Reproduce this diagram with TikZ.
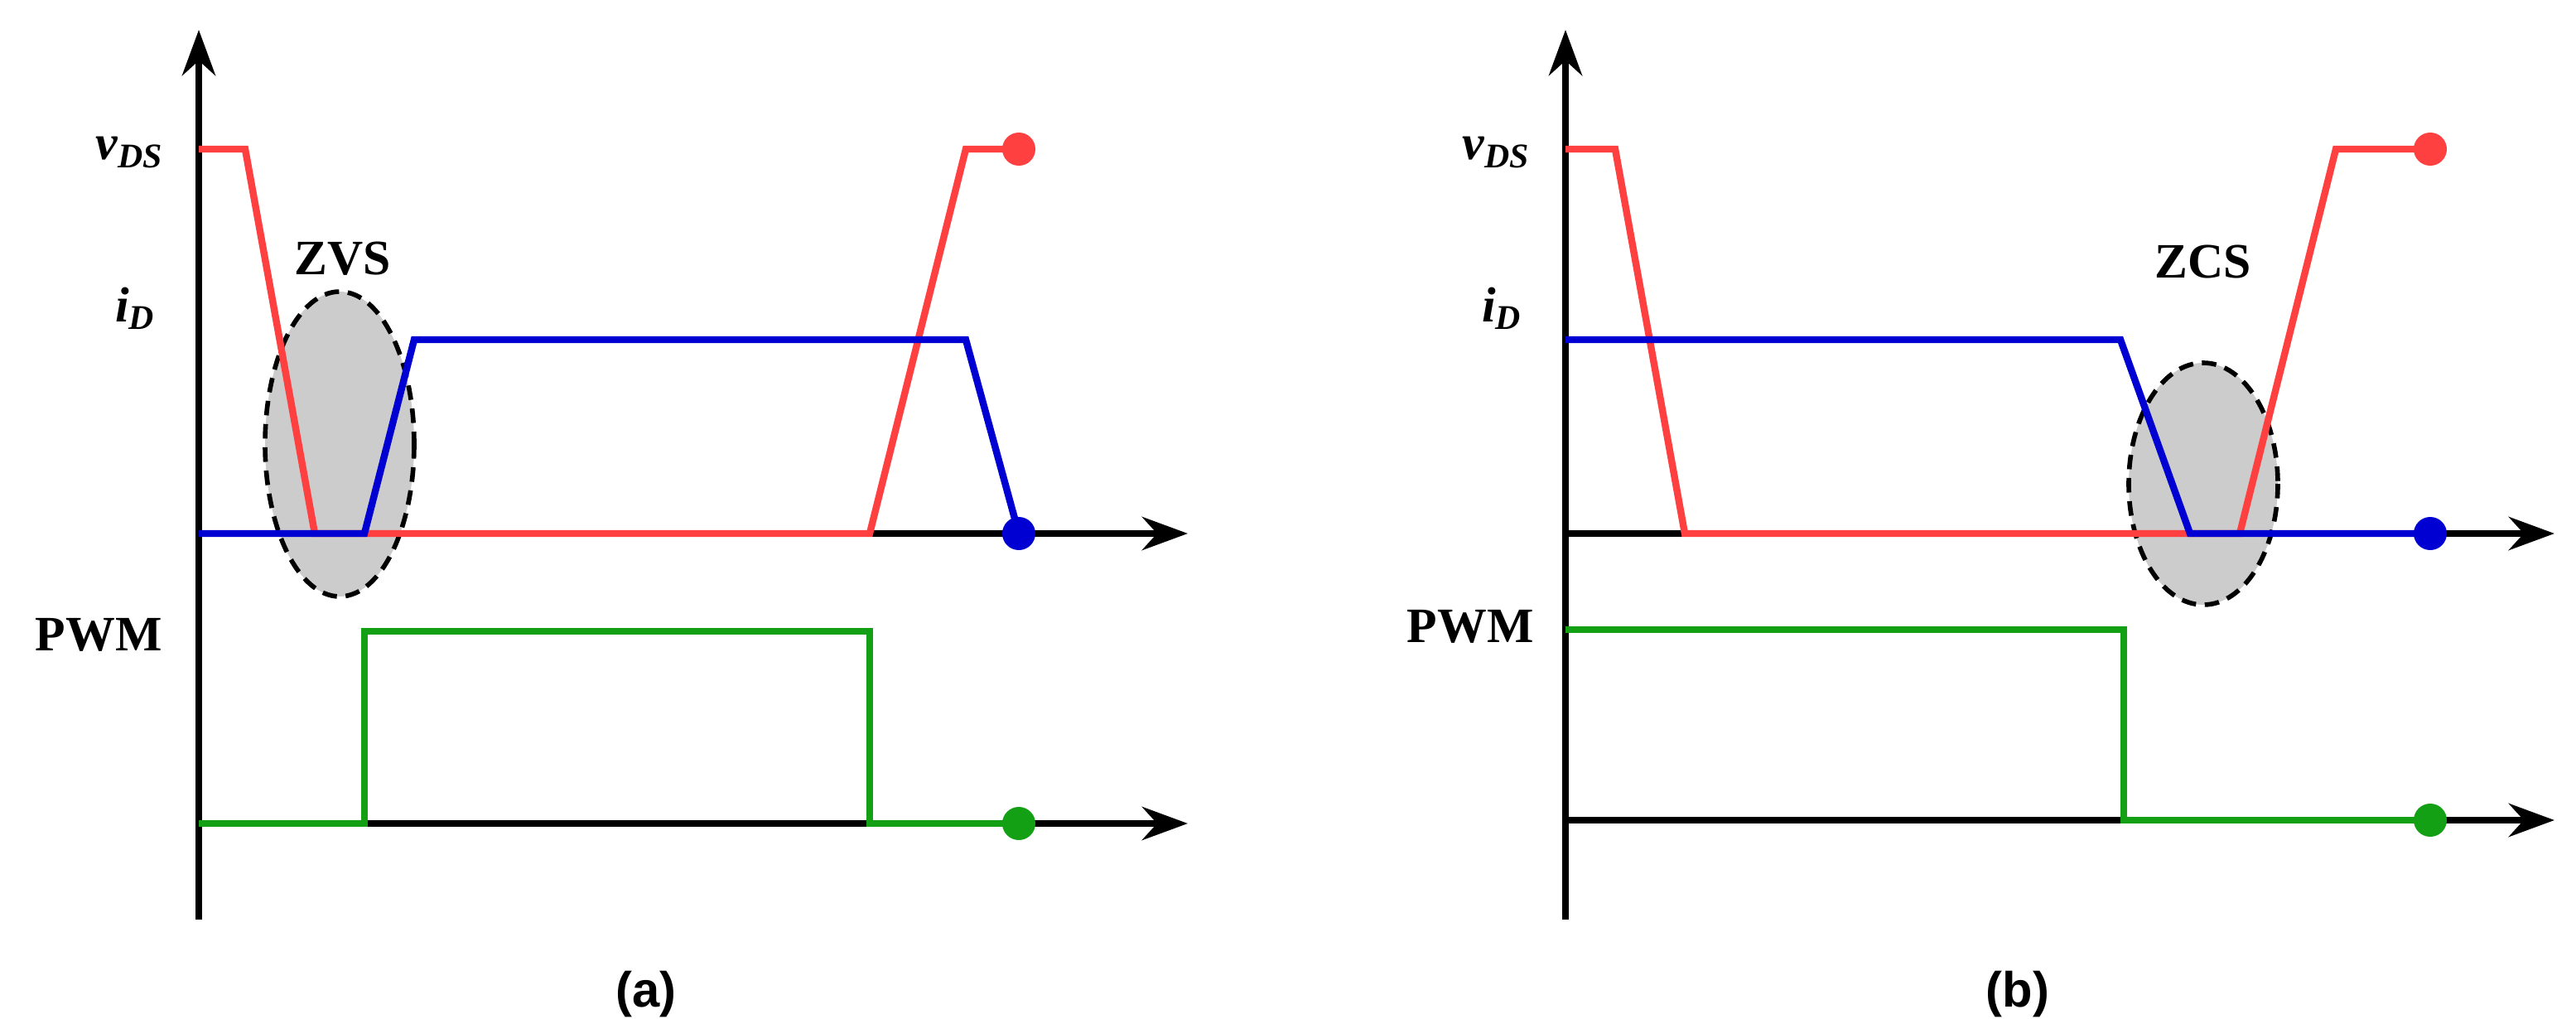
\documentclass[tikz,border=0pt]{standalone}
\usepackage{fontspec}
\setmainfont{Liberation Serif}
\newfontfamily\sansf{Liberation Sans}
\usetikzlibrary{arrows.meta}
\definecolor{rd}{RGB}{255,64,64}
\definecolor{bl}{RGB}{0,0,210}
\definecolor{gr}{RGB}{20,160,20}
\begin{document}
\begin{tikzpicture}[x=0.02cm,y=-0.02cm,
  ax/.style={line width=2.4pt,-{Stealth[length=0.55cm,width=0.4cm]}},
  cv/.style={line width=2.4pt,line join=miter},
  dot/.style={circle,fill=#1,inner sep=0pt,minimum size=0.4cm},
  lab/.style={font=\fontsize{17}{20}\selectfont\bfseries},
  zone/.style={draw=black,fill=black!20,line width=1.6pt,dash pattern=on 5pt off 3pt}]
\useasboundingbox (0,0) rectangle (1555,615);
% ---- panel (a)
\fill[zone] (205,268) ellipse [x radius=45,y radius=92];
\node[lab] (zvs) at (207,156) {ZVS};
\coordinate (a0) at (120,555); \coordinate (a1) at (120,18);
\coordinate (a2) at (120,322); \coordinate (a3) at (717,322);
\coordinate (a4) at (120,497); \coordinate (a5) at (717,497);
\draw[ax] (a0) -- (a1);
\draw[ax] (a2) -- (a3);
\draw[ax] (a4) -- (a5);
\node[dot=rd] (ra) at (615,90) {};
\node[dot=bl] (ba) at (615,322) {};
\node[dot=gr] (ga) at (615,497) {};
\draw[cv,rd] (120,90) -- (148,90) -- (190,322) -- (525,322) -- (583,90) -- (ra.center);
\draw[cv,bl] (120,322) -- (220,322) -- (250,205) -- (583,205) -- (ba.center);
\draw[cv,gr] (120,497) -- (220,497) -- (220,381) -- (525,381) -- (525,497) -- (ga.center);
\node[lab,anchor=east] (vds) at (105,92) {\textit{v}\textsubscript{\textit{DS}}};
\node[lab,anchor=east] (id) at (100,186) {\textit{i}\textsubscript{\textit{D}}};
\node[lab,anchor=east] (pwm) at (104,383) {PWM};
\node[lab,font=\sansf\fontsize{17}{20}\selectfont\bfseries] (ta) at (390,600) {(a)};
% ---- panel (b)
\fill[zone] (1330,292) ellipse [x radius=45,y radius=73];
\node[lab] (zcs) at (1330,158) {ZCS};
\coordinate (b0) at (945,555); \coordinate (b1) at (945,18);
\coordinate (b2) at (945,322); \coordinate (b3) at (1542,322);
\coordinate (b4) at (945,495); \coordinate (b5) at (1542,495);
\draw[ax] (b0) -- (b1);
\draw[ax] (b2) -- (b3);
\draw[ax] (b4) -- (b5);
\node[dot=rd] (rb) at (1467,90) {};
\node[dot=bl] (bb) at (1467,322) {};
\node[dot=gr] (gb) at (1467,495) {};
\draw[cv,rd] (945,90) -- (975,90) -- (1017,322) -- (1352,322) -- (1410,90) -- (rb.center);
\draw[cv,bl] (945,205) -- (1280,205) -- (1322,322) -- (bb.center);
\draw[cv,gr] (945,380) -- (1282,380) -- (1282,495) -- (gb.center);
\node[lab,anchor=east] (vdsb) at (930,92) {\textit{v}\textsubscript{\textit{DS}}};
\node[lab,anchor=east] (idb) at (925,186) {\textit{i}\textsubscript{\textit{D}}};
\node[lab,anchor=east] (pwmb) at (932,378) {PWM};
\node[lab,font=\sansf\fontsize{17}{20}\selectfont\bfseries] (tb) at (1218,600) {(b)};
\end{tikzpicture}
\end{document}
